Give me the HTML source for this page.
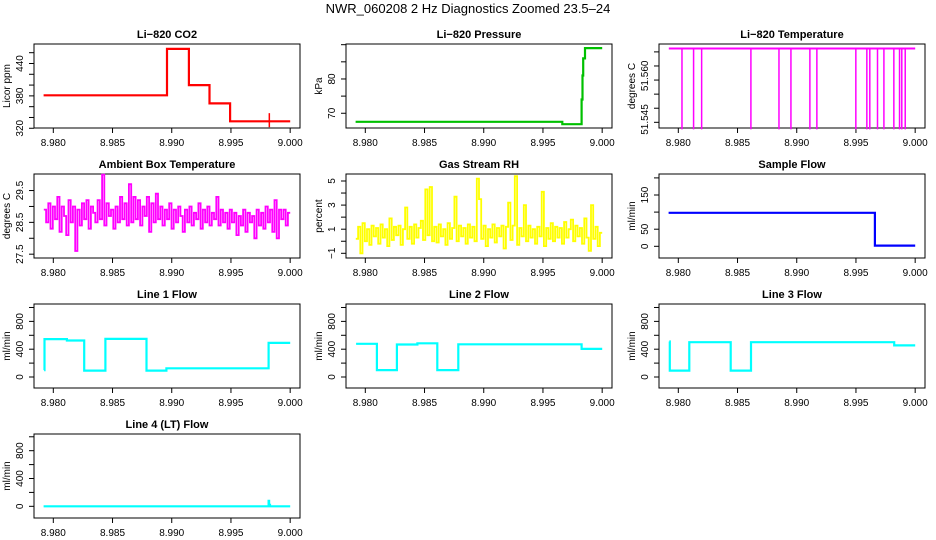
<!DOCTYPE html>
<html><head><meta charset="utf-8"><style>
html,body{margin:0;padding:0;background:#fff;}
svg{display:block;font-family:"Liberation Sans",Arial,sans-serif;}
</style></head><body>
<svg id="chart" width="936" height="540" viewBox="0 0 936 540">
<text x="468" y="13" text-anchor="middle" font-size="13">NWR_060208  2 Hz Diagnostics Zoomed 23.5–24</text>
</svg>
<script>
// ---- shared x axis ----
const xTicks = [8.980, 8.985, 8.990, 8.995, 9.000];
const xTickLabels = ["8.980", "8.985", "8.990", "8.995", "9.000"];
const xStart = 8.9792, xEnd = 9.0000;

// ---- step series: breakpoint times and levels ----
const co2Times = [8.97918, 8.98960, 8.99145, 8.99319, 8.99493];
const co2Values = [381, 467, 400, 366, 333];
const pressTimes = [8.97918, 8.99663, 8.99826, 8.99834, 8.99840, 8.99855];
const pressValues = [67.5, 66.8, 74, 81, 86, 89];
const sampleTimes = [8.97918, 8.99660];
const sampleValues = [98, 2];
const line1Times = [8.97922, 8.97926, 8.98115, 8.98261, 8.98440, 8.98787, 8.98955, 8.99818];
const line1Values = [100, 545, 525, 92, 548, 92, 125, 490];
const line2Times = [8.97922, 8.98098, 8.98267, 8.98440, 8.98608, 8.98785, 8.99826];
const line2Values = [478, 100, 468, 485, 100, 470, 405];
const line3Times = [8.97924, 8.97928, 8.98093, 8.98442, 8.98614, 8.99823];
const line3Values = [510, 92, 500, 92, 500, 455];
const line4Times = [8.97918, 8.99818, 8.99822, 8.99830];
const line4Values = [0, 80, 20, 0];

// ---- Li-820 temperature: base level and dropout times ----
const tempBase = 51.5712;
const tempLow = 51.5425;
const tempDropTimes = [8.98031, 8.98129, 8.98197, 8.98613, 8.98850, 8.98951, 8.99111, 8.99170, 8.99499, 8.99592, 8.99617, 8.99682, 8.99736, 8.99820, 8.99868, 8.99887, 8.99916];

// ---- noisy series (regular 2 Hz grid) ----
const ambientValues = [28.9,28.5,29.1,28.3,29.0,28.6,29.3,28.2,29.0,28.7,28.1,29.2,28.5,29.0,27.6,28.9,28.4,29.1,28.6,29.2,28.3,29.0,28.8,28.5,29.2,28.6,30.0,28.4,29.1,28.7,28.9,28.3,29.0,28.5,29.3,28.6,29.1,28.4,29.7,28.5,29.3,28.6,29.2,28.4,29.0,28.7,29.3,28.2,29.1,28.5,29.4,28.6,29.0,28.4,28.9,28.6,29.1,28.3,28.9,28.5,29.0,28.7,28.2,28.9,28.5,29.0,28.4,28.8,28.6,29.1,28.3,28.9,28.5,29.0,28.4,28.8,28.6,29.3,28.4,28.9,28.5,28.8,28.3,28.9,28.5,28.8,28.1,28.7,28.4,28.9,28.2,28.8,28.5,28.7,28.0,28.9,28.4,28.8,28.3,29.0,28.5,28.9,28.2,29.2,28.0,28.9,28.6,28.9,28.4,28.8];
const rhValues = [0.2,1.2,-1.0,1.5,0.0,1.0,-0.3,1.3,0.4,1.1,-0.2,1.4,0.3,1.0,-0.4,1.9,0.1,1.2,0.5,1.3,-0.3,1.0,2.8,0.2,1.2,-0.2,1.4,0.3,1.1,1.7,0.1,4.3,0.5,4.5,0.0,1.2,-0.1,1.4,0.4,1.0,-0.3,1.5,0.2,1.1,3.7,0.0,1.3,0.4,1.1,-0.2,1.4,0.3,1.2,0.0,5.2,3.5,0.2,1.3,-0.4,1.0,0.3,1.4,-0.1,1.1,0.4,1.3,-0.6,1.2,3.2,0.1,1.3,5.4,-0.3,1.1,0.4,3.0,0.0,1.3,0.3,1.0,-0.2,1.2,0.4,4.1,-0.4,1.1,0.2,1.5,0.0,1.2,0.3,1.1,-0.2,1.6,0.3,1.0,1.8,0.0,1.3,0.4,1.1,-0.2,1.9,0.3,-0.8,3.0,0.2,1.2,-0.4,0.7];

const NS = "http://www.w3.org/2000/svg";
const svg = document.getElementById("chart");
const colLeft = [34, 346, 659];
const rowTop = [44, 174, 304, 434];
const boxW = 266, boxH = 84;
const xMin = 8.97837, xMax = 9.00083;

function mk(tag, attrs, parent) {
  const e = document.createElementNS(NS, tag);
  for (const k in attrs) e.setAttribute(k, attrs[k]);
  (parent || svg).appendChild(e);
  return e;
}

function panel(key, title, ylab, col, row, ylim, yTicks, yLabelVals, yLabelText) {
  const L = colLeft[col], T = rowTop[row], R = L + boxW, B = T + boxH;
  const g = mk("g", {});
  
  
  const sx = v => L + (v - xMin) / (xMax - xMin) * boxW;
  const sy = v => B - (v - ylim[0]) / (ylim[1] - ylim[0]) * boxH;
  const t = mk("text", {x: L + boxW / 2, y: T - 6, "text-anchor": "middle", "font-size": 11, "font-weight": "bold"}, g);
  t.textContent = title;
  
  
  const box = mk("rect", {x: L, y: T, width: boxW, height: boxH, fill: "none", stroke: "#000", "stroke-width": 1}, g);
  
  
  const xa = mk("g", {}, g);
  
  
  mk("line", {x1: sx(xTicks[0]), x2: sx(xTicks[xTicks.length - 1]), y1: B, y2: B, stroke: "#000"}, xa);
  xTicks.forEach((v, i) => {
    mk("line", {x1: sx(v), x2: sx(v), y1: B, y2: B + 5, stroke: "#000"}, xa);
    const tl = mk("text", {x: sx(v), y: B + 18, "text-anchor": "middle", "font-size": 10}, xa);
    tl.textContent = xTickLabels[i];
    
    
  });
  const ya = mk("g", {}, g);
  
  
  mk("line", {x1: L, x2: L, y1: sy(yTicks[0]), y2: sy(yTicks[yTicks.length - 1]), stroke: "#000"}, ya);
  yTicks.forEach(v => mk("line", {x1: L - 5, x2: L, y1: sy(v), y2: sy(v), stroke: "#000"}, ya));
  yLabelVals.forEach((v, i) => {
    const lx = L - 11, ly = sy(v);
    const tl = mk("text", {x: lx, y: ly, "text-anchor": "middle", "font-size": 10, transform: `rotate(-90 ${lx} ${ly})`}, ya);
    tl.textContent = yLabelText[i];
    
    
  });
  const yl = L - 24, ym = T + boxH / 2;
  const ylt = mk("text", {x: yl, y: ym, "text-anchor": "middle", "font-size": 10, transform: `rotate(-90 ${yl} ${ym})`}, g);
  ylt.textContent = ylab;
  
  
  return {g, sx, sy};
}

function steps(p, key, times, values, color, w) {
  let d = "";
  times.forEach((t, i) => {
    const x0 = p.sx(t), x1 = p.sx(i + 1 < times.length ? times[i + 1] : xEnd), y = p.sy(values[i]);
    d += (i === 0 ? "M" : "L") + x0.toFixed(1) + "," + y.toFixed(1) + "L" + x1.toFixed(1) + "," + y.toFixed(1);
  });
  const path = mk("path", {d: d, fill: "none", stroke: color, "stroke-width": w}, p.g);
  
  
}

function noisy(p, key, values, color) {
  const n = values.length;
  let d = "";
  values.forEach((v, i) => {
    const t0 = xStart + (xEnd - xStart) * i / n;
    const t1 = xStart + (xEnd - xStart) * (i + 1) / n;
    const y = p.sy(v).toFixed(1);
    d += (i === 0 ? "M" : "L") + p.sx(t0).toFixed(1) + "," + y + "L" + p.sx(t1).toFixed(1) + "," + y;
  });
  const path = mk("path", {d: d, fill: "none", stroke: color, "stroke-width": 1.8}, p.g);
  
  
}

let p = panel("co2", "Li\u2212820 CO2", "Licor ppm", 0, 0, [320.5, 476.1], [320,340,360,380,400,420,440,460], [320,380,440], ["320","380","440"]);
steps(p, "co2", co2Times, co2Values, "#ff0000", 2.2);
const co2Spike = mk("line", {x1: p.sx(8.99824), x2: p.sx(8.99824), y1: p.sy(348), y2: p.sy(322), stroke: "#ff0000", "stroke-width": 1.5}, p.g);



p = panel("pressure", "Li\u2212820 Pressure", "kPa", 1, 0, [65.7, 90.2], [70,75,80,85,90], [70,80], ["70","80"]);
steps(p, "pressure", pressTimes, pressValues, "#00c000", 2.2);

p = panel("temperature", "Li\u2212820 Temperature", "degrees C", 2, 0, [51.54298, 51.5728], [51.545,51.550,51.555,51.560,51.565,51.570], [51.546,51.5615], ["51.545","51.560"]);
steps(p, "temperature", [xStart], [tempBase], "#ff00ff", 2);
tempDropTimes.forEach(t => {
  const l = mk("line", {x1: p.sx(t), x2: p.sx(t), y1: p.sy(tempBase), y2: p.sy(tempLow), stroke: "#ff00ff", "stroke-width": 1.5}, p.g);
  
  
});

p = panel("ambient", "Ambient Box Temperature", "degrees C", 0, 1, [27.38, 30.02], [27.5,28.0,28.5,29.0,29.5], [27.5,28.5,29.5], ["27.5","28.5","29.5"]);
noisy(p, "ambient", ambientValues, "#ff00ff");

p = panel("rh", "Gas Stream RH", "percent", 1, 1, [-1.39, 5.58], [-1,0,1,2,3,4,5], [-1,1,3,5], ["\u22121","1","3","5"]);
noisy(p, "rh", rhValues, "#ffff00");

p = panel("sample-flow", "Sample Flow", "ml/min", 2, 1, [-34.2, 211.4], [0,50,100,150,200], [0,50,150], ["0","50","150"]);
steps(p, "sample-flow", sampleTimes, sampleValues, "#0000ff", 2.2);

const flowTicks = [0,200,400,600,800,1000];
p = panel("line1-flow", "Line 1 Flow", "ml/min", 0, 2, [-158, 1050], flowTicks, [0,400,800], ["0","400","800"]);
steps(p, "line1-flow", line1Times, line1Values, "#00ffff", 2.2);
p = panel("line2-flow", "Line 2 Flow", "ml/min", 1, 2, [-158, 1050], flowTicks, [0,400,800], ["0","400","800"]);
steps(p, "line2-flow", line2Times, line2Values, "#00ffff", 2.2);
p = panel("line3-flow", "Line 3 Flow", "ml/min", 2, 2, [-158, 1050], flowTicks, [0,400,800], ["0","400","800"]);
steps(p, "line3-flow", line3Times, line3Values, "#00ffff", 2.2);
p = panel("line4-flow", "Line 4 (LT) Flow", "ml/min", 0, 3, [-168, 1040], flowTicks, [0,400,800], ["0","400","800"]);
steps(p, "line4-flow", line4Times, line4Values, "#00ffff", 2.2);
</script>
</body></html>
